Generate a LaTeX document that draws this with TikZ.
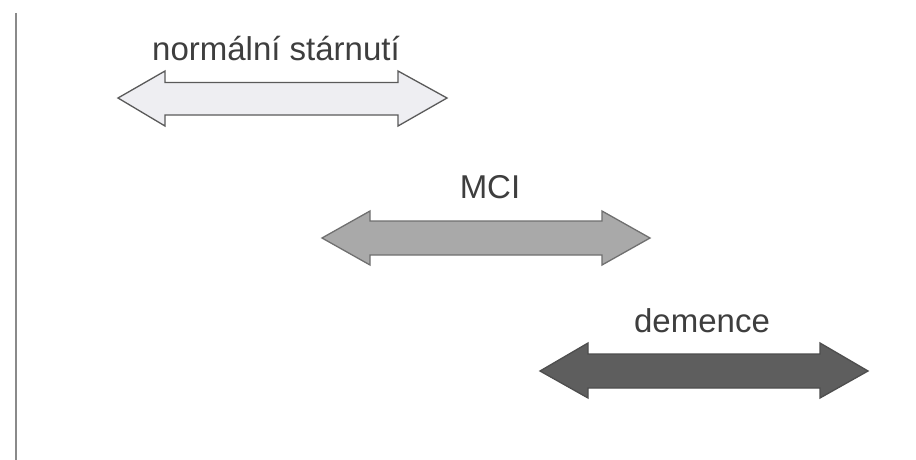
\documentclass[tikz,border=0pt]{standalone}
\usepackage{fontspec}
\setmainfont{Liberation Sans}
\definecolor{txt}{HTML}{3E3E3E}
\definecolor{axis}{HTML}{8A8A8A}
\definecolor{f1}{HTML}{EEEEF2}
\definecolor{o1}{HTML}{5A5A5A}
\definecolor{f2}{HTML}{A9A9A9}
\definecolor{o2}{HTML}{707070}
\definecolor{f3}{HTML}{5E5E5E}
\definecolor{o3}{HTML}{4E4E4E}
\begin{document}
\begin{tikzpicture}[x=1pt,y=-1pt,
  lbl/.style={font=\fontsize{33}{36}\selectfont, text=txt, anchor=base, inner sep=0pt},
  dblarrow/.style={line width=1.3pt, line join=miter}]
\useasboundingbox (0,0) rectangle (916,460);
\fill[white] (0,0) rectangle (916,460);
% axis line
\coordinate (axtop) at (16,13);
\coordinate (axbot) at (16,460);
\draw[axis, line width=1.5pt] (axtop) -- (axbot);
% arrow 1
\draw[dblarrow, draw=o1, fill=f1] (118,98) -- (165,71) -- (165,82.5) -- (398,82.5) -- (398,71) -- (447,98)
  -- (398,126) -- (398,115) -- (165,115) -- (165,126) -- cycle;
% arrow 2
\draw[dblarrow, draw=o2, fill=f2] (322,238) -- (370,211) -- (370,221) -- (602,221) -- (602,211) -- (650,238)
  -- (602,265) -- (602,255) -- (370,255) -- (370,265) -- cycle;
% arrow 3
\draw[dblarrow, draw=o3, fill=f3] (540,371) -- (588,343) -- (588,354) -- (820,354) -- (820,343) -- (868,371)
  -- (820,398) -- (820,388) -- (588,388) -- (588,398) -- cycle;
% labels
\node[lbl] (n1) at (276,60) {normální stárnutí};
\node[lbl] (n2) at (490,198) {MCI};
\node[lbl] (n3) at (702,332) {demence};
\end{tikzpicture}
\end{document}
